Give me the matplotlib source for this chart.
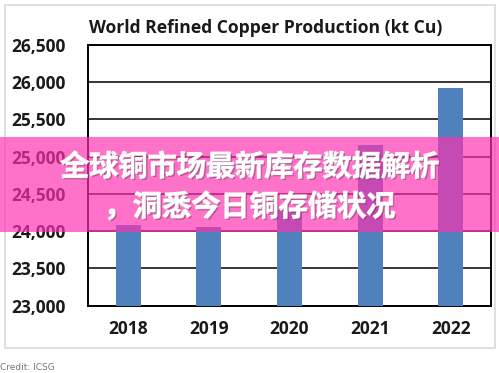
import matplotlib
matplotlib.use("Agg")
import matplotlib.pyplot as plt
import matplotlib.patheffects as pe
from matplotlib.patches import Rectangle

# data (kt Cu)
years = ["2018", "2019", "2020", "2021", "2022"]
production = [24080, 24060, 24280, 25160, 25920]
y_ticks = [23000, 23500, 24000, 24500, 25000, 25500, 26000, 26500]

title = "World Refined Copper Production (kt Cu)"
banner_lines = ["全球铜市场最新库存数据解析", "，洞悉今日铜存储状况"]
credit = "Credit: ICSG"

W, H = 499, 373
fig = plt.figure(figsize=(W / 100, H / 100), dpi=100)
fig.patch.set_facecolor("white")

# light grey frame around the chart image
fig.add_artist(Rectangle((5 / W, 1 - 348 / H), 490 / W, 343 / H,
                         transform=fig.transFigure, fill=False,
                         edgecolor="#d9d9d9", lw=1.2))

ax = fig.add_axes([88 / W, 1 - 305.7 / H, 403 / W, (305.7 - 44.7) / H])
x = range(len(years))
ax.bar(x, production, width=0.31, color="#4f81bd", zorder=3)
ax.set_ylim(23000, 26500)
ax.set_xlim(-0.5, len(years) - 0.5)
ax.set_yticks(y_ticks)
ax.set_yticklabels([f"{v:,}" for v in y_ticks])
ax.set_xticks(list(x))
ax.set_xticklabels(years)
ax.tick_params(length=0, labelsize=12.5)
ax.tick_params(axis="y", pad=16)
ax.tick_params(axis="x", pad=10)
for lab in ax.get_xticklabels() + ax.get_yticklabels():
    lab.set_fontweight("bold")
    lab.set_family("Open Sans")
    lab.set_color("#1a1a1a")
ax.yaxis.grid(True, color="black", lw=1.1, zorder=1)
for sp in ax.spines.values():
    sp.set_linewidth(1.4)
    sp.set_color("black")

fig.text(89 / W, 1 - 28 / H, title, fontsize=12.6, fontweight="bold",
         family="Open Sans", color="#1a1a1a", va="center", ha="left")

fig.text(0 / W, 1 - 367 / H, credit, fontsize=6.5, color="#777777",
         va="center", ha="left")

# pink banner laid over the chart
fig.add_artist(Rectangle((0, 1 - 232 / H), 1, (232 - 137) / H,
                         transform=fig.transFigure, facecolor="#ff30b0",
                         alpha=0.68, edgecolor="none", zorder=10))
for line, yc in zip(banner_lines, [167, 207]):
    fig.text(0.5, 1 - yc / H, line, fontsize=21, fontweight="heavy",
             family=["Noto Sans CJK SC", "DejaVu Sans"], color="white",
             ha="center", va="center", zorder=11,
             path_effects=[pe.Stroke(linewidth=0.8, foreground="white"),
                           pe.withSimplePatchShadow(offset=(1, -1),
                                                    shadow_rgbFace="#7a2a5a",
                                                    alpha=0.5)])

fig.savefig("out.png", dpi=100)
